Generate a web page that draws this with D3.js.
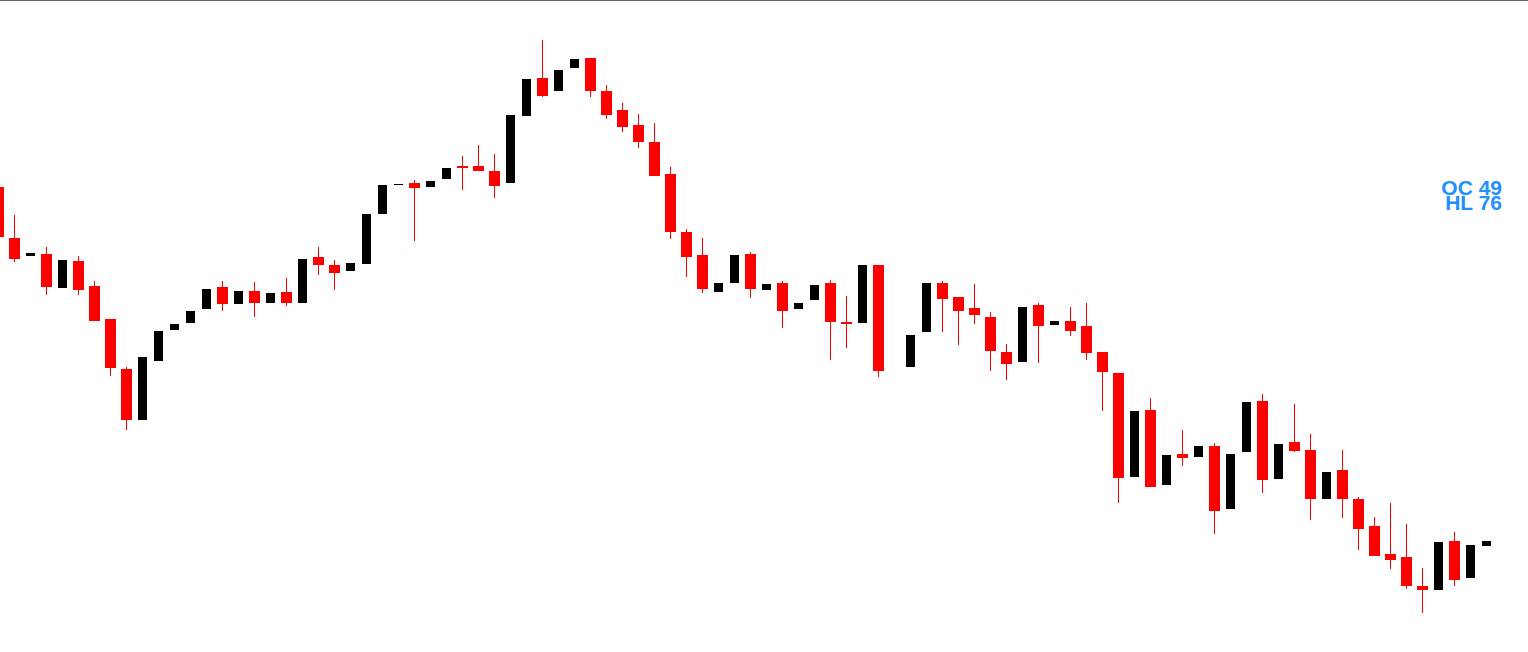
<!DOCTYPE html>
<html>
<head>
<meta charset="utf-8">
<script src="https://cdn.jsdelivr.net/npm/d3@7"></script>
<style>
  html, body { margin: 0; padding: 0; background: #ffffff; overflow: hidden; }
  svg { display: block; }
</style>
</head>
<body>
<svg id="chart" width="1528" height="652"></svg>
<script>
// Candle values (price units; the chart has no axis). null = missing bar.
const opens  = [465,414,396,398,364,391,366,333,283,232,
                291,322,329,343,365,348,361,349,360,349,
                395,387,381,388,438,467,469,465,473,486,
                486,481,469,536,574,561,584,594,561,542,
                527,510,478,420,397,360,369,398,362,369,
                343,352,369,330,329,387,null,285,320,369,
                355,344,335,300,290,347,327,331,326,300,
                279,175,242,167,198,195,206,143,200,251,
                173,210,202,153,182,153,126,98,95,66,
                62,111,74,106];
const closes = [415,393,399,365,392,362,331,284,232,295,
                321,328,341,363,348,361,349,359,349,393,
                387,379,389,438,467,468,464,471,484,484,
                481,466,537,573,556,582,593,561,537,525,
                510,476,420,395,363,369,397,363,368,341,
                349,367,330,328,387,281,null,317,369,353,
                341,337,301,288,345,326,331,321,299,280,
                174,241,165,197,194,206,141,198,250,172,
                208,201,153,180,153,123,96,92,66,62,
                110,72,107,111];
const highs  = [465,437,399,405,392,396,371,333,285,295,
                321,328,341,363,371,361,370,359,374,393,
                405,392,389,438,467,468,472,471,484,496,
                507,498,537,573,612,582,593,594,567,549,
                538,529,485,423,414,369,397,400,368,371,
                349,367,372,356,387,387,null,317,369,371,
                355,368,340,308,345,349,331,345,349,300,
                279,241,254,197,222,206,209,198,250,258,
                208,248,218,180,202,155,135,149,128,84,
                110,120,107,111];
const lows   = [415,390,396,357,364,357,331,276,222,232,
                291,322,329,343,341,348,335,349,346,349,
                377,362,381,388,438,467,411,465,473,462,
                481,454,469,536,555,561,584,555,533,520,
                504,476,413,375,359,360,369,354,362,324,
                343,352,292,304,329,275,null,285,320,320,
                307,328,281,272,290,289,327,316,292,241,
                149,175,165,167,186,195,118,143,200,159,
                173,200,132,153,134,102,96,83,63,39,
                62,66,74,106];
const labels = ["OC 49", "HL 76"];

const data = opens.map((o, i) => ({ i, open: o, close: closes[i], high: highs[i], low: lows[i] }))
  .filter(d => d.open !== null);

const W = 1528, H = 652;
const svg = d3.select("#chart");

const x = d3.scaleLinear().domain([0, 93]).range([-1.5, 1486.5]);
const y = d3.scaleLinear().domain([0, 652]).range([652, 0]);

// top frame line
svg.append("rect").attr("x", 0).attr("y", 0).attr("width", W).attr("height", 1).attr("fill", "#666666");

const up = d => d.close >= d.open;
const col = d => up(d) ? "#000000" : "#ff0000";

const g = svg.append("g").attr("shape-rendering", "crispEdges");

g.selectAll("line.wick").data(data).join("line")
  .attr("class", "wick")
  .attr("x1", d => x(d.i)).attr("x2", d => x(d.i))
  .attr("y1", d => y(d.high)).attr("y2", d => y(d.low))
  .attr("stroke", col).attr("stroke-width", 1);

g.selectAll("rect.body").data(data).join("rect")
  .attr("class", "body")
  .attr("x", d => x(d.i) - (up(d) ? 4.5 : 5.5))
  .attr("width", d => up(d) ? 9 : 11)
  .attr("y", d => y(Math.max(d.open, d.close)))
  .attr("height", d => Math.max(1, Math.abs(y(d.open) - y(d.close))))
  .attr("fill", col);

svg.selectAll("text.info").data(labels).join("text")
  .attr("class", "info")
  .attr("x", 1502)
  .attr("y", (d, k) => 195 + k * 15)
  .attr("text-anchor", "end")
  .attr("font-family", "Liberation Sans, Arial, sans-serif")
  .attr("font-weight", "bold")
  .attr("font-size", 21)
  .attr("fill", "#1e90ff")
  .text(d => d);
</script>
</body>
</html>
